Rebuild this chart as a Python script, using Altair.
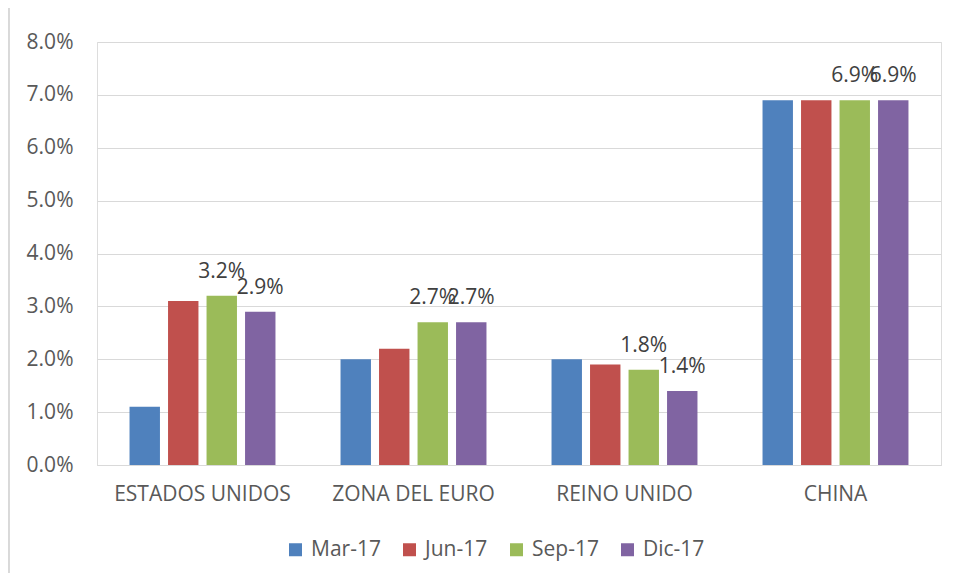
import altair as alt
import pandas as pd

categories = ["ESTADOS UNIDOS", "ZONA DEL EURO", "REINO UNIDO", "CHINA"]
series = ["Mar-17", "Jun-17", "Sep-17", "Dic-17"]
values = {
    "Mar-17": [0.011, 0.020, 0.020, 0.069],
    "Jun-17": [0.031, 0.022, 0.019, 0.069],
    "Sep-17": [0.032, 0.027, 0.018, 0.069],
    "Dic-17": [0.029, 0.027, 0.014, 0.069],
}
labelled = ["Sep-17", "Dic-17"]
colors = ["#4F81BD", "#C0504D", "#9BBB59", "#8064A2"]

rows = []
for s in series:
    for c, v in zip(categories, values[s]):
        rows.append({"cat": c, "serie": s, "val": v, "lab": s in labelled})
df = pd.DataFrame(rows)

FONT = "Open Sans"
FS = 21
W, H = 844, 423

x = alt.X("cat:N", sort=categories, title=None,
          scale=alt.Scale(paddingInner=0.27, paddingOuter=0.135),
          axis=alt.Axis(labelAngle=0, ticks=False, domainColor="#d9d9d9",
                        labelFontSize=FS, labelColor="#595959", labelFont=FONT,
                        labelPadding=18))
xo = alt.XOffset("serie:N", sort=series,
                 scale=alt.Scale(paddingInner=0.21, paddingOuter=0.105))
y = alt.Y("val:Q", title=None,
          scale=alt.Scale(domain=[0, 0.08], nice=False),
          axis=alt.Axis(format=".1%", values=[i / 100 for i in range(9)],
                        domain=False, ticks=False, gridColor="#d9d9d9",
                        labelFontSize=FS, labelColor="#595959", labelFont=FONT,
                        labelPadding=24))

bars = alt.Chart(df).mark_bar().encode(
    x=x, xOffset=xo, y=y,
    color=alt.Color("serie:N", sort=series,
                    scale=alt.Scale(domain=series, range=colors),
                    legend=alt.Legend(title=None, orient="none", direction="horizontal",
                                      legendX=188, legendY=497,
                                      symbolType="square", symbolSize=169,
                                      symbolStrokeWidth=0,
                                      labelFontSize=FS, labelColor="#595959",
                                      labelFont=FONT, columnPadding=18,
                                      labelOffset=5)),
)

text = alt.Chart(df).transform_filter("datum.lab").mark_text(
    baseline="alphabetic", dy=-18, fontSize=FS, color="#404040", font=FONT
).encode(x=x, xOffset=xo, y=y, text=alt.Text("val:Q", format=".1%"))

border = alt.Chart(df).mark_rule(color="#d9d9d9", clip=False).encode(
    x=alt.value(-88), y=alt.value(-34), y2=alt.value(H + 108)
)

chart = alt.layer(border, bars, text).properties(
    width=W, height=H,
    autosize=alt.AutoSizeParams(type="none"),
    padding={"left": 89, "top": 34, "right": 4, "bottom": 108},
).configure_view(stroke=None).configure(background="white")

chart.save("out.html", embed_options={"renderer": "svg", "actions": False})
